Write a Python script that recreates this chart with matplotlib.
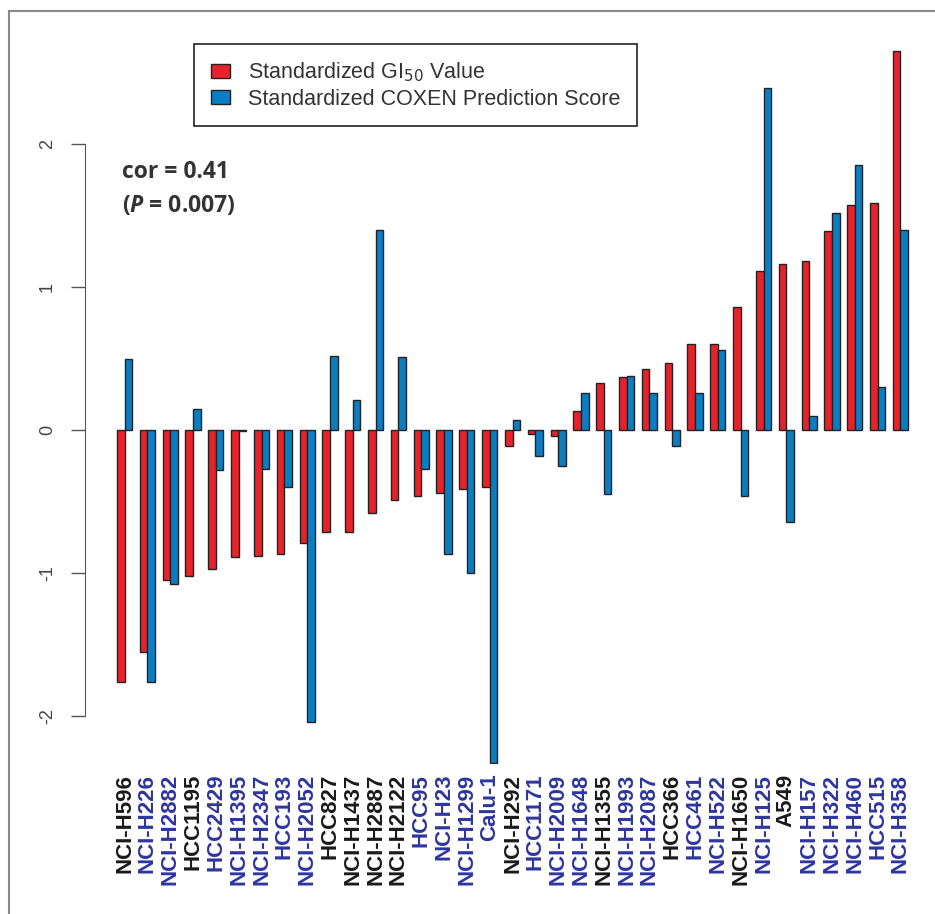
import matplotlib.pyplot as plt
import numpy as np
from matplotlib.patches import Rectangle

plt.rcParams['font.family'] = ['Liberation Sans', 'DejaVu Sans']
plt.rcParams['mathtext.fontset'] = 'custom'
plt.rcParams['mathtext.it'] = 'Open Sans:italic:bold'

cell_lines = ['NCI-H596', 'NCI-H226', 'NCI-H2882', 'HCC1195', 'HCC2429', 'NCI-H1395',
              'NCI-H2347', 'HCC193', 'NCI-H2052', 'HCC827', 'NCI-H1437', 'NCI-H2887',
              'NCI-H2122', 'HCC95', 'NCI-H23', 'NCI-H1299', 'Calu-1', 'NCI-H292',
              'HCC1171', 'NCI-H2009', 'NCI-H1648', 'NCI-H1355', 'NCI-H1993', 'NCI-H2087',
              'HCC366', 'HCC461', 'NCI-H522', 'NCI-H1650', 'NCI-H125', 'A549',
              'NCI-H157', 'NCI-H322', 'NCI-H460', 'HCC515', 'NCI-H358']
# 1 = label drawn in blue, 0 = black
blue_label = [0, 1, 1, 0, 1, 1, 1, 1, 1, 0, 0, 0, 0, 1, 1, 1, 1, 0,
              1, 1, 1, 0, 1, 1, 0, 1, 1, 0, 1, 0, 1, 1, 1, 1, 1]

gi50 = [-1.76, -1.55, -1.05, -1.02, -0.97, -0.89, -0.88, -0.87, -0.79, -0.71,
        -0.71, -0.58, -0.49, -0.46, -0.44, -0.41, -0.40, -0.11, -0.03, -0.04,
        0.13, 0.33, 0.37, 0.43, 0.47, 0.60, 0.60, 0.86, 1.11, 1.16,
        1.18, 1.39, 1.57, 1.59, 2.65]
coxen = [0.50, -1.76, -1.08, 0.15, -0.28, -0.01, -0.27, -0.40, -2.04, 0.52,
         0.21, 1.40, 0.51, -0.27, -0.87, -1.00, -2.33, 0.07, -0.18, -0.25,
         0.26, -0.45, 0.38, 0.26, -0.11, 0.26, 0.56, -0.46, 2.39, -0.64,
         0.10, 1.52, 1.85, 0.30, 1.40]

W, H = 935, 914
fig = plt.figure(figsize=(W / 100, H / 100), dpi=100)

# axes placed in pixel terms
x0, x1 = 85, 935
y_top, y_bot = 30, 764
ax = fig.add_axes([x0 / W, 1 - y_bot / H, (x1 - x0) / W, (y_bot - y_top) / H])

# R barplot style: bar width 1, one unit gap between groups
idx = np.arange(len(cell_lines))
left_red = 1 + 3 * idx
red_c = '#E8222B'
blue_c = '#0A7EC3'
ax.bar(left_red, gi50, width=1, align='edge', color=red_c, edgecolor='#222222', linewidth=1)
ax.bar(left_red + 1, coxen, width=1, align='edge', color=blue_c, edgecolor='#222222', linewidth=1)

px_per_unit = 143.0
ax.set_ylim(-(y_bot - 430) / px_per_unit, (430 - y_top) / px_per_unit)
u = 7.606
x_zero = 109.4
ax.set_xlim((x0 - x_zero) / u, (x1 - x_zero) / u)

for s in ['top', 'right', 'bottom']:
    ax.spines[s].set_visible(False)
ax.spines['left'].set_bounds(-2, 2)
ax.spines['left'].set_color('#555555')
ax.set_yticks([-2, -1, 0, 1, 2])
ax.set_yticklabels(['-2', '-1', '0', '1', '2'], rotation=90, va='center', fontsize=13, color='#444444')
ax.tick_params(axis='y', length=10, width=1, color='#555555', pad=11)

ax.set_xticks(left_red + 1)
ax.set_xticklabels(cell_lines, rotation=90, fontsize=16, fontweight='bold')
ax.tick_params(axis='x', length=0, pad=7)
for lab, b in zip(ax.get_xticklabels(), blue_label):
    lab.set_color('#2E35A0' if b else '#1a1a1a')

leg_handles = [Rectangle((0, 0), 1, 1, facecolor=red_c, edgecolor='#222222'),
               Rectangle((0, 0), 1, 1, facecolor=blue_c, edgecolor='#222222')]
leg = fig.legend(leg_handles, ['Standardized GI$_{50}$ Value', 'Standardized COXEN Prediction Score'],
                 loc='upper left', bbox_to_anchor=(194 / W, 1 - 44 / H), fontsize=15.5,
                 frameon=True, fancybox=False, edgecolor='#222222', framealpha=1,
                 handlelength=0.88, handleheight=0.6, handletextpad=0.84, borderpad=0.78,
                 labelspacing=0.2, borderaxespad=0)
leg.get_frame().set_linewidth(1.2)
for t in leg.get_texts():
    t.set_color('#333333')

fig.text(122 / W, 1 - 172 / H, 'cor = 0.41', fontsize=16.5, fontweight='bold',
         family='Open Sans', color='#333333', va='center')
fig.text(122 / W, 1 - 206 / H, r'($\mathit{P}$ = 0.007)', fontsize=16.5, fontweight='bold',
         family='Open Sans', color='#333333', va='center')

# picture border
fig.add_artist(plt.Line2D([9 / W, 9 / W], [0, 1 - 11 / H], transform=fig.transFigure,
                          color='#888888', linewidth=1.5))
fig.add_artist(plt.Line2D([9 / W, 1], [1 - 11 / H, 1 - 11 / H], transform=fig.transFigure,
                          color='#888888', linewidth=1.5))

fig.savefig('out.png', dpi=100)
